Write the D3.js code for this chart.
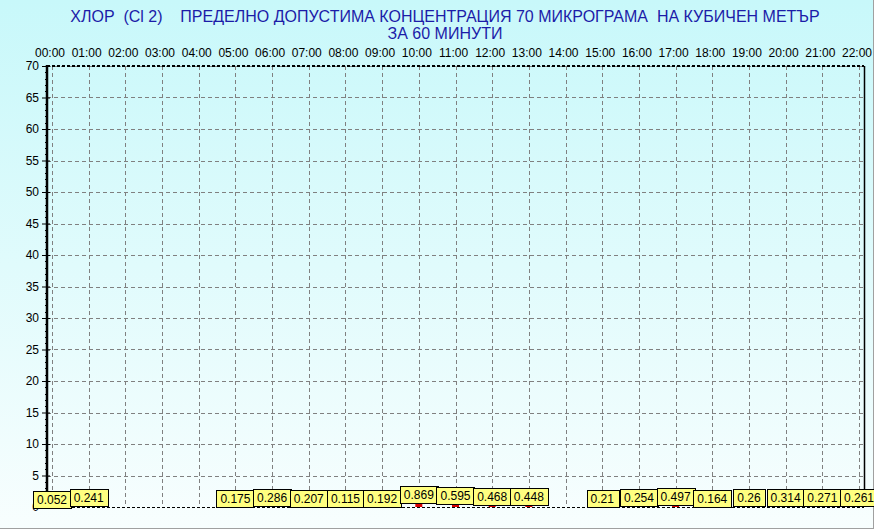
<!DOCTYPE html>
<html>
<head>
<meta charset="utf-8">
<script src="https://cdn.jsdelivr.net/npm/d3@7"></script>
<style>
  body { margin: 0; background: #fff; }
  svg { display: block; font-family: Arial, "Liberation Sans", sans-serif; }
</style>
</head>
<body>
<svg id="chart" width="874" height="529"></svg>
<script>
// hourly concentrations, null where no measurement
var hours = d3.range(0, 23);
var values = [0.052, 0.241, null, null, null, 0.175, 0.286, 0.207, 0.115, 0.192,
              0.869, 0.595, 0.468, 0.448, null, 0.21, 0.254, 0.497, 0.164, 0.26,
              0.314, 0.271, 0.261];
var hourLabels = hours.map(function(h) { return (h < 10 ? '0' : '') + h + ':00'; });
var yTicks = d3.range(5, 71, 5);
var titleLines = ['ХЛОР  (Cl 2)    ПРЕДЕЛНО ДОПУСТИМА КОНЦЕНТРАЦИЯ 70 МИКРОГРАМА  НА КУБИЧЕН МЕТЪР',
                  'ЗА 60 МИНУТИ'];

var svg = d3.select('#chart'),
    W = 874, H = 529,
    pLeft = 47, pRight = 864, pTop = 66, pBottom = 507;

var x = d3.scaleLinear().domain([0, 22]).range([52, 859]);
var y = d3.scaleLinear().domain([0, 70]).range([pBottom, pTop]);

// background
var grad = svg.append('defs').append('linearGradient')
    .attr('id', 'bg').attr('x1', 0).attr('y1', 0).attr('x2', 0).attr('y2', 1);
grad.append('stop').attr('offset', '0%').attr('stop-color', '#c8f8fa');
grad.append('stop').attr('offset', '100%').attr('stop-color', '#f8fefe');
svg.append('rect').attr('width', W).attr('height', H).attr('fill', 'url(#bg)');

// outer frame
svg.append('line').attr('x1', 0).attr('x2', W).attr('y1', H - 0.5).attr('y2', H - 0.5)
    .attr('stroke', '#a0a0a0');
svg.append('line').attr('x1', W - 0.5).attr('x2', W - 0.5).attr('y1', 0).attr('y2', H)
    .attr('stroke', '#a0a0a0');

// title
svg.append('g').selectAll('text')
    .data(titleLines)
  .enter().append('text')
    .attr('x', 445)
    .attr('y', function(d, i) { return 22 + i * 17; })
    .attr('text-anchor', 'middle')
    .attr('fill', '#1c1ca8')
    .style('font-size', '16px')
    .style('white-space', 'pre')
    .text(function(d) { return d; });

// grid
var grid = svg.append('g').attr('stroke', '#808080').attr('stroke-dasharray', '4,3');
grid.selectAll('line.v')
    .data(hours)
  .enter().append('line')
    .attr('class', 'v')
    .attr('x1', function(d) { return Math.round(x(d)) + 0.5; })
    .attr('x2', function(d) { return Math.round(x(d)) + 0.5; })
    .attr('y1', pTop).attr('y2', pBottom);
grid.selectAll('line.h')
    .data(yTicks)
  .enter().append('line')
    .attr('class', 'h')
    .attr('x1', pLeft).attr('x2', pRight)
    .attr('y1', function(d) { return Math.round(y(d)) + 0.5; })
    .attr('y2', function(d) { return Math.round(y(d)) + 0.5; });

// frame
svg.append('line').attr('x1', pLeft).attr('x2', pRight).attr('y1', pTop).attr('y2', pTop)
    .attr('stroke', '#000').attr('stroke-width', 2).attr('stroke-dasharray', '3,2');
svg.append('line').attr('x1', pLeft).attr('x2', pRight).attr('y1', pBottom + 0.5).attr('y2', pBottom + 0.5)
    .attr('stroke', '#000').attr('stroke-dasharray', '3,2');
svg.append('line').attr('x1', pRight + 0.5).attr('x2', pRight + 0.5).attr('y1', pTop).attr('y2', pBottom)
    .attr('stroke', '#000').attr('stroke-width', 1.5);

// top hour axis
svg.append('g').selectAll('text')
    .data(hours)
  .enter().append('text')
    .attr('x', function(d) { return x(d) - 2; })
    .attr('y', 57)
    .attr('text-anchor', 'middle')
    .style('font-size', '12px')
    .text(function(d, i) { return hourLabels[i]; });

// left axis
var yAxis = d3.axisLeft(y)
    .tickValues(d3.range(0, 71, 5))
    .tickSize(5)
    .tickPadding(3)
    .tickFormat(d3.format('d'));
var ya = svg.append('g')
    .attr('transform', 'translate(' + pLeft + ',0)')
    .call(yAxis);
ya.select('.domain').remove();
ya.selectAll('.tick line').attr('x2', -5).attr('x1', 3);
ya.selectAll('.tick text').style('font-size', '12px').style('font-family', 'Arial, sans-serif');
svg.append('g').selectAll('line')
    .data(d3.range(0, 71).filter(function(d) { return d % 5; }))
  .enter().append('line')
    .attr('x1', pLeft - 2).attr('x2', pLeft)
    .attr('y1', function(d) { return Math.round(y(d)) + 0.5; })
    .attr('y2', function(d) { return Math.round(y(d)) + 0.5; })
    .attr('stroke', '#000');
svg.append('line').attr('x1', pLeft).attr('x2', pLeft).attr('y1', pTop - 1).attr('y2', pBottom + 1)
    .attr('stroke', '#000').attr('stroke-width', 2.5);

// bars + labels
var data = hours.map(function(h, i) { return {h: h, v: values[i]}; })
    .filter(function(d) { return d.v != null; });

svg.append('g').selectAll('rect')
    .data(data)
  .enter().append('rect')
    .attr('x', function(d) { return x(d.h) - 3.5; })
    .attr('width', 7)
    .attr('y', function(d) { return y(d.v); })
    .attr('height', function(d) { return y(0) - y(d.v); })
    .attr('fill', '#d80000');

var lab = svg.append('g').selectAll('g')
    .data(data)
  .enter().append('g');
lab.append('text')
    .attr('x', function(d) { return x(d.h); })
    .attr('y', function(d) { return y(d.v) - 3; })
    .attr('text-anchor', 'middle')
    .style('font-size', '12px')
    .text(function(d) { return d.v; });
lab.each(function() {
    var g = d3.select(this), t = g.select('text'), b = t.node().getBBox();
    g.insert('rect', 'text')
        .attr('x', Math.round(b.x - 4) + 0.5)
        .attr('y', Math.round(b.y - 2) + 0.5)
        .attr('width', Math.round(b.width + 8))
        .attr('height', Math.round(b.height + 3))
        .attr('fill', '#ffff80')
        .attr('stroke', '#000');
});
</script>
</body>
</html>
